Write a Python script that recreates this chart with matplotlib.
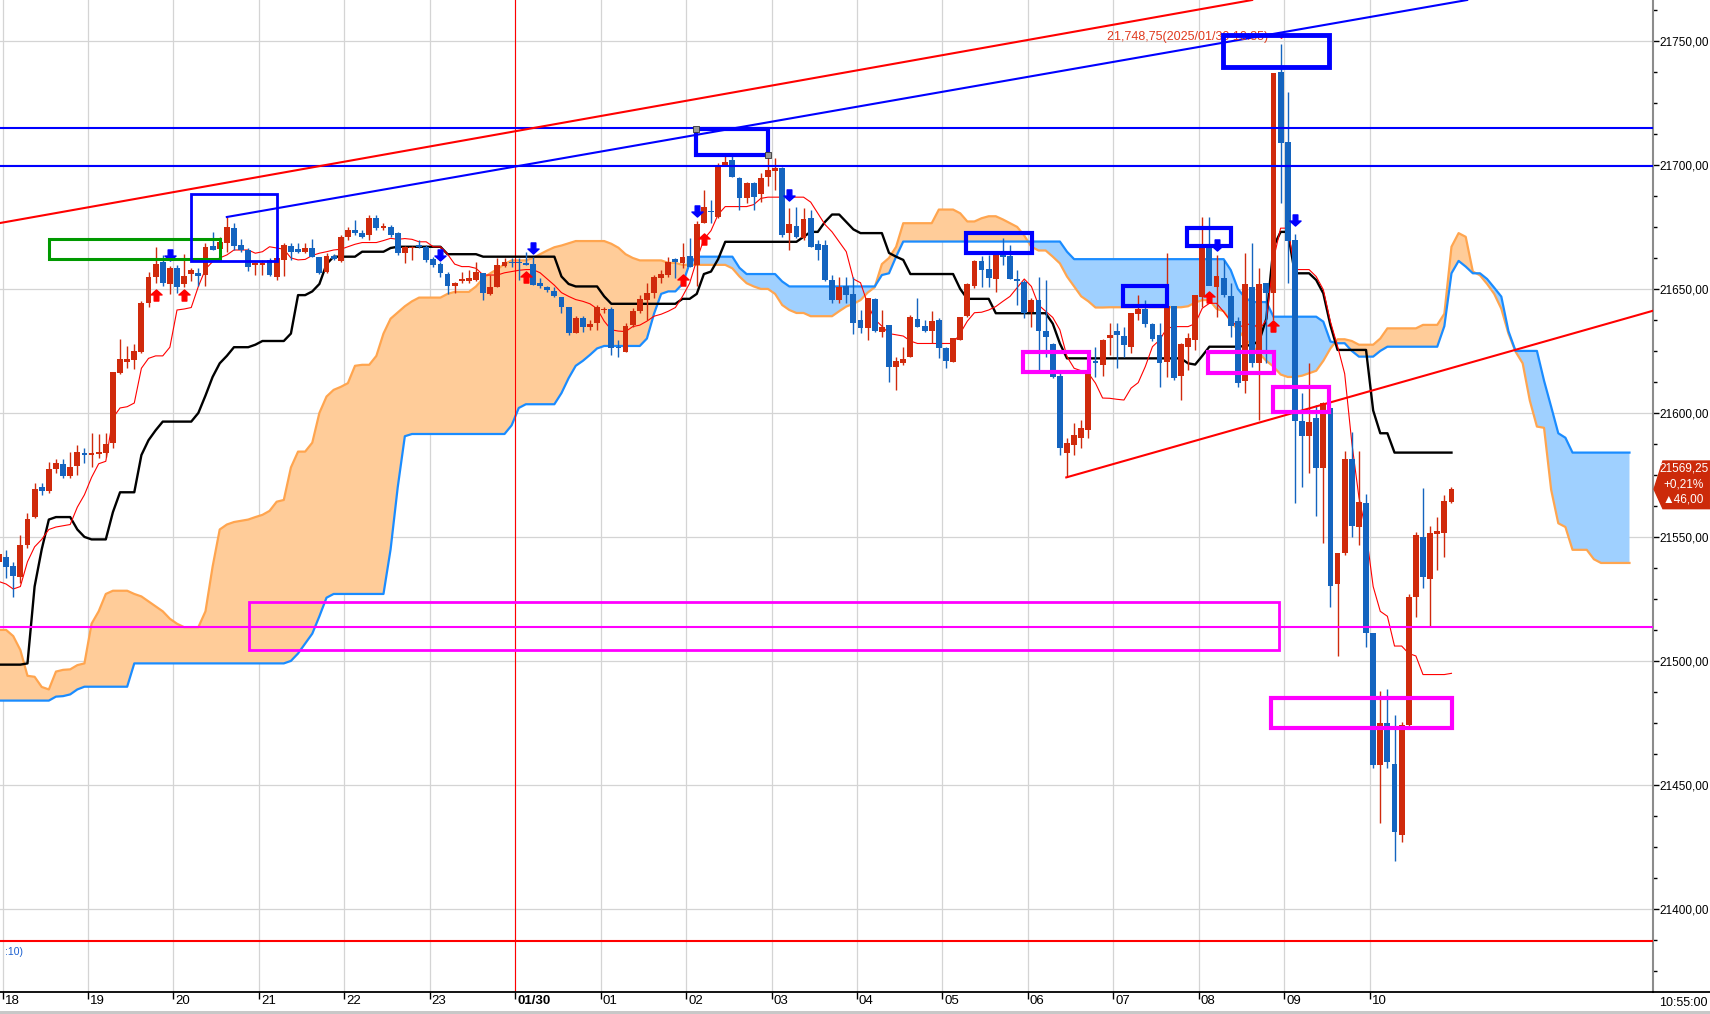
import numpy as np
import matplotlib
matplotlib.use("Agg")
import matplotlib.pyplot as plt
from matplotlib.path import Path
from matplotlib.patches import Rectangle, Polygon
from matplotlib.lines import Line2D
from matplotlib import font_manager

# ---------------- data (5-minute candles, index 0 = first bar at left edge) ----------------
OPEN = [21540, 21542, 21538.3, 21534, 21546.7, 21557.9, 21570, 21568.5, 21577.2, 21579.4,
        21574.7, 21578.7, 21583.7, 21582.9, 21583.5, 21584, 21587.7, 21616, 21620.7, 21621.4,
        21624.7, 21644.5, 21654.7, 21660.9, 21652, 21658.3, 21651.9, 21656.1, 21656.3, 21655.6,
        21667.3, 21666, 21668.4, 21674.5, 21667.7, 21665.7, 21659.7, 21659.7, 21661.7, 21655,
        21661.7, 21667.3, 21665.9, 21665, 21666.4, 21662.8, 21657, 21663.3, 21661.4, 21670.8,
        21673.8, 21672.4, 21671.8, 21678.5, 21674.5, 21674.9, 21672.4, 21664.4, 21666.4, 21667.5,
        21667, 21662, 21660, 21656, 21651, 21653, 21653, 21653.6, 21656.3, 21648,
        21650.9, 21659.4, 21660.5, 21660.7, 21660.3, 21660, 21652.3, 21650.7, 21649.3, 21646.6,
        21642.9, 21632.1, 21638.2, 21634.5, 21636.2, 21641.3, 21641.8, 21626.3, 21624.7, 21635.5,
        21640.9, 21645.5, 21648.5, 21654.3, 21655.6, 21662, 21660.6, 21663.3, 21659.7, 21676.7,
        21681.6, 21679.2, 21700, 21702, 21694.6, 21686.5, 21692.9, 21688.3, 21695.3, 21697.7,
        21698.7, 21672.4, 21675.4, 21670.4, 21678.5, 21668.1, 21667.7, 21653.6, 21645.5, 21651.2,
        21648, 21637.4, 21634.1, 21646, 21632.7, 21635.5, 21618.7, 21620.2, 21622.7, 21637.8,
        21635.2, 21633.2, 21637.5, 21626, 21620.5, 21629.4, 21639.2, 21651, 21661.3, 21658,
        21654, 21664.4, 21663.3, 21654, 21652.7, 21640.8, 21645.6, 21633.2, 21627.8, 21615,
        21584, 21587, 21590, 21593, 21620.7, 21619.4, 21630.1, 21633, 21631, 21626.7,
        21639.9, 21641.8, 21635.9, 21631.4, 21620.7, 21643.1, 21614.9, 21626.7, 21629.4, 21646.9,
        21667.1, 21650.9, 21654.3, 21647.2, 21637.2, 21613, 21650.9, 21620.3, 21652.3, 21648.5,
        21737.6, 21709.4, 21669.8, 21596.8, 21590.5, 21598.1, 21577.7, 21601.9, 21531, 21543.4,
        21581.4, 21554.2, 21563.8, 21511.4, 21458.1, 21474.9, 21458.5, 21429.8, 21474.2, 21525.9,
        21549.9, 21533.2, 21551.1, 21551.7, 21564.2]
HIGH = [21545, 21544.7, 21540, 21550.8, 21559.5, 21571.6, 21571.9, 21580.3, 21581.3, 21581.3,
        21584.4, 21587.1, 21585.7, 21591.8, 21591.5, 21591.8, 21616.7, 21629.8, 21627, 21627.8,
        21645, 21657, 21667.1, 21663.7, 21659.3, 21659.7, 21664.1, 21658.5, 21658.5, 21668.4,
        21673, 21670.8, 21679.2, 21676.7, 21670, 21666.4, 21661, 21661.7, 21662.4, 21663.3,
        21668.7, 21668.4, 21668.4, 21668.4, 21670, 21662.8, 21664.4, 21664.1, 21671.8, 21675.1,
        21677.8, 21673.8, 21679.8, 21679.8, 21676.5, 21675.8, 21673, 21667.5, 21667.2, 21669.7,
        21667.7, 21663, 21661, 21657, 21652.9, 21657, 21657.7, 21661, 21656.6, 21655.6,
        21662.4, 21662.4, 21662.4, 21662.4, 21665, 21662.7, 21654.3, 21651.2, 21650.9, 21646.9,
        21642.9, 21638.9, 21638.9, 21637.5, 21643.6, 21642.9, 21642.9, 21629.4, 21636.2, 21642.2,
        21647.6, 21652.3, 21655.6, 21657.7, 21663, 21662.4, 21668.4, 21670.4, 21677.2, 21690,
        21686, 21700.6, 21704.7, 21703.4, 21695.3, 21693.3, 21693.3, 21696.6, 21705, 21702.7,
        21699.3, 21682.5, 21683.2, 21682.5, 21681.9, 21669.7, 21669.7, 21655.6, 21654.9, 21654.9,
        21655, 21641.5, 21646.2, 21646.2, 21641.5, 21635.5, 21622.7, 21626.7, 21639.5, 21646.2,
        21637.5, 21640.9, 21638.2, 21626.7, 21630.2, 21638.8, 21652.3, 21661.7, 21663.3, 21663.7,
        21664.4, 21670.4, 21667.7, 21657.7, 21653.6, 21646.2, 21655, 21653.6, 21628.1, 21617,
        21590, 21596, 21597, 21620, 21626.7, 21630, 21636.1, 21636.1, 21634.8, 21640.2,
        21647.6, 21645.6, 21636.1, 21636.1, 21664.4, 21643.1, 21628.1, 21632.1, 21647.6, 21679.2,
        21679.2, 21663.7, 21661.7, 21652.3, 21638.8, 21664.4, 21668.4, 21658.3, 21652.3, 21737.2,
        21748.75, 21729.6, 21672, 21608, 21620, 21603.2, 21604.6, 21601.9, 21543.4, 21584.8,
        21592.5, 21584.8, 21567.3, 21511.4, 21487.9, 21488.6, 21478.2, 21475.5, 21527, 21552.1,
        21569.6, 21554.4, 21558.2, 21566.9, 21570]
LOW = [21538, 21533.3, 21525.9, 21531.5, 21545.4, 21557.5, 21566.9, 21567.6, 21575.9, 21573.6,
       21573.6, 21575, 21579.7, 21578.3, 21581.7, 21582.4, 21585.7, 21615.5, 21618, 21617.9,
       21624, 21642.6, 21652.3, 21651, 21648, 21648.2, 21650.9, 21653, 21651, 21651,
       21665.7, 21665.7, 21665, 21665.7, 21665, 21657.4, 21655.6, 21655.6, 21655.2, 21653.6,
       21655.2, 21661.7, 21664.4, 21664.4, 21662.8, 21656, 21656.3, 21661.7, 21661, 21669.8,
       21671.8, 21670.4, 21669.8, 21673.8, 21673.8, 21671.1, 21663.5, 21660.3, 21661.6, 21666.4,
       21661, 21659, 21655, 21648, 21648.3, 21652.3, 21652.3, 21653.3, 21645.5, 21647.6,
       21650.9, 21659, 21659, 21653.6, 21659.7, 21651.6, 21650.3, 21648.9, 21646.9, 21640.2,
       21631.4, 21632.1, 21632.8, 21633.5, 21633.5, 21640.2, 21623.4, 21622.7, 21624.7, 21634.8,
       21640.2, 21637.5, 21646.2, 21652.3, 21654.9, 21654.3, 21658.3, 21659, 21651, 21676.5,
       21676.5, 21678.5, 21700, 21695.3, 21681.9, 21684.5, 21681.9, 21685.2, 21691.3, 21689.9,
       21671.1, 21665.7, 21670.4, 21669.8, 21667, 21661.7, 21653, 21644.2, 21644.2, 21644.2,
       21632, 21632.1, 21629.4, 21632.8, 21630.8, 21612.6, 21609.2, 21619.4, 21622.7, 21634.8,
       21632.8, 21628.1, 21622, 21618, 21620.4, 21629.4, 21638.8, 21650.3, 21650.9, 21650.9,
       21648.9, 21659.7, 21654, 21643.5, 21638.2, 21634.8, 21616, 21622.7, 21614, 21583,
       21574, 21583, 21586, 21590, 21614.6, 21615, 21623.4, 21618, 21622.7, 21624,
       21637.5, 21634.8, 21628.8, 21610.6, 21614.6, 21613.3, 21605.2, 21617.3, 21625.4, 21642.9,
       21654.9, 21638.8, 21646.9, 21630.8, 21610.6, 21607.9, 21618.7, 21597.2, 21620, 21637.5,
       21684.5, 21652.3, 21563.8, 21570, 21575.9, 21558.5, 21547.7, 21521.9, 21502, 21542.7,
       21550.1, 21546.8, 21505.5, 21456.7, 21434.8, 21456.7, 21419.5, 21427.1, 21473.5, 21517.6,
       21529.3, 21514.1, 21536.7, 21542.1, 21563.6]
CLOSE = [21543, 21538, 21534.4, 21546.7, 21557.2, 21569.2, 21568.6, 21577.2, 21579.7, 21574.7,
         21578, 21584.1, 21583.2, 21583.7, 21583.8, 21587.5, 21616.3, 21621.6, 21621.8, 21625,
         21644.5, 21654.9, 21660.1, 21652.3, 21658.3, 21650.7, 21655.2, 21657.7, 21655.2, 21667,
         21665.7, 21669.1, 21675.1, 21667.3, 21665.7, 21659, 21660.3, 21660.3, 21655.6, 21662.4,
         21667.7, 21665, 21665, 21666.4, 21662.8, 21656.3, 21663.3, 21662, 21670.8, 21673.8,
         21672.4, 21670.8, 21678.5, 21674.5, 21675.4, 21671.8, 21664.4, 21667, 21667, 21667,
         21661.6, 21659.6, 21656.6, 21651.2, 21652.5, 21653.9, 21654.5, 21656.7, 21648.5, 21650.9,
         21659.7, 21661, 21660.3, 21660.3, 21659.8, 21651.6, 21651.2, 21649.6, 21647.2, 21642.9,
         21632.1, 21638.2, 21634.5, 21635.9, 21642.9, 21641.8, 21626, 21626, 21635, 21640.9,
         21645.8, 21648.5, 21654.9, 21656, 21661, 21661, 21663, 21659, 21676.2, 21682.9,
         21681, 21700, 21701, 21695.3, 21686.5, 21692.9, 21687.2, 21694.9, 21698, 21698.7,
         21671.8, 21676.2, 21671.1, 21678.1, 21667, 21665.7, 21653.4, 21645.5, 21650.9, 21647.6,
         21636.4, 21634.1, 21646.2, 21633.1, 21634.8, 21618.7, 21621.1, 21621.7, 21638.6, 21634.8,
         21633.2, 21637.2, 21626, 21621, 21630.2, 21638.6, 21652, 21661.3, 21657.6, 21654.3,
         21663.7, 21663, 21654, 21653, 21640.2, 21645.6, 21633.2, 21630.8, 21614.6, 21586,
         21588, 21591, 21594, 21617, 21620.3, 21629.4, 21631.4, 21631.4, 21627.4, 21640.2,
         21641.8, 21635.9, 21629.7, 21620.3, 21643.1, 21613.9, 21627.8, 21630.1, 21647.6, 21667.1,
         21651.2, 21655.2, 21647.6, 21635.1, 21612.2, 21652, 21620, 21652, 21648.2, 21737.2,
         21709, 21669.5, 21596.9, 21590.5, 21596.5, 21577.8, 21603.9, 21530.4, 21543.4, 21581.4,
         21554.6, 21564.2, 21511.4, 21458.1, 21474.9, 21459.4, 21431.2, 21474.2, 21525.9, 21550.8,
         21534, 21551.5, 21552.2, 21564.5, 21569.25]

# Ichimoku lines
TENKAN = [21532, 21531, 21529, 21530, 21540, 21546, 21549, 21553, 21554, 21554.5,
          21555, 21562, 21567, 21574, 21579.5, 21580.5, 21598, 21602, 21602.5, 21604,
          21618, 21622, 21623, 21623, 21626.5, 21641.5, 21641.9, 21642.5, 21651, 21658,
          21661, 21662.5, 21663.7, 21665.7, 21665.7, 21665.7, 21664.4, 21665, 21667, 21666.5,
          21666, 21662.5, 21661.7, 21661.9, 21663.5, 21664.4, 21665, 21665.7, 21666, 21667,
          21668, 21668.7, 21668.7, 21668.7, 21669.5, 21670.4, 21670, 21670.3, 21670, 21669,
          21669, 21667, 21667, 21664, 21660, 21659, 21659, 21658.3, 21655.6, 21655.6,
          21655.6, 21656.5, 21657, 21657.5, 21657.8, 21657.8, 21656.5, 21654, 21651.5, 21648.5,
          21647, 21645.7, 21645, 21644, 21642, 21637, 21633.5, 21633, 21632.8, 21634.8,
          21635.4, 21637, 21639, 21639.8, 21641, 21642.5, 21647, 21652.3, 21661.7, 21670,
          21673.5, 21680, 21683.2, 21683.2, 21683.2, 21683.2, 21684, 21686.5, 21687, 21687,
          21687, 21687, 21687, 21687, 21685, 21680.5, 21676, 21673, 21669, 21665,
          21654, 21652.5, 21644, 21637.7, 21635, 21632, 21631.5, 21631, 21629, 21628,
          21628, 21628, 21628, 21628, 21628, 21632.1, 21637, 21640.4, 21640.6, 21641.5,
          21642.9, 21645, 21647, 21650.5, 21654, 21651, 21643.5, 21641, 21638.5, 21633.5,
          21622.7, 21618, 21617, 21616, 21612, 21606, 21605.9, 21605.5, 21605.2, 21610,
          21612.2, 21618.7, 21626.7, 21629.4, 21634, 21634.8, 21634.8, 21634.8, 21636, 21642.2,
          21644.2, 21644.2, 21640.8, 21637, 21635, 21635, 21636.5, 21633.5, 21637.5, 21662,
          21674.5, 21674.5, 21657.8, 21657.8, 21657.8, 21655, 21649.7, 21636.8, 21626.9, 21615.8,
          21588, 21566, 21552, 21530, 21520, 21518, 21506, 21506, 21503, 21502,
          21494.5, 21494.5, 21494.5, 21494.5, 21495]
KIJUN = ([21498.5] * 4 + [21499, 21530, 21545, 21557, 21558, 21558,
          21558, 21553, 21550, 21549, 21549, 21549, 21560, 21568, 21568, 21568,
          21583, 21589, 21593] + [21596.5] * 5 + [21600, 21607,
          21614.5, 21620, 21623, 21626.5, 21626.5, 21626.5, 21627.5] + [21629] * 4 +
         [21632, 21647.5, 21647.5, 21649, 21652, 21660] + [21663] * 4 + [21665] * 4 +
         [21666.5] + [21667] * 7 + [21664] * 5 + [21663] * 11 + [21655, 21652] + [21651] * 4 +
         [21647] + [21644] * 10 + [21646, 21646, 21648, 21656, 21657, 21662] + [21669] * 11 +
         [21671, 21673, 21673, 21677, 21680, 21680, 21677, 21674] + [21672.5] * 4 +
         [21664.5, 21663, 21661.7] + [21656] * 7 + [21650] + [21646] * 4 + [21640.2] * 8 +
         [21636, 21628] + [21622] * 17 + [21620, 21619.5, 21623] + [21626.7] * 5 +
         [21627, 21627.5, 21629, 21638, 21667, 21673, 21673, 21656.3, 21656.3, 21656.3,
          21653.6, 21648.2, 21635.3] + [21625.4] * 5 + [21601, 21591.8, 21591.8] + [21584] * 9)
SPAN_A = [21512.5, 21512.5, 21510, 21504.4, 21494, 21493.6, 21489.5, 21488.5, 21495.7, 21496.4,
          21496.6, 21498.3, 21499, 21515, 21520, 21527, 21528.3, 21528.3, 21528.3, 21527,
          21526, 21524, 21522, 21520, 21517, 21515, 21513.6, 21513.6, 21513.6, 21520,
          21538, 21553, 21555, 21556, 21556.5, 21557, 21558, 21558.9, 21560.5, 21564.2,
          21564.9, 21578, 21584.4, 21584.4, 21588, 21600, 21606.6, 21609.3, 21610.5, 21612,
          21619, 21619.4, 21619.4, 21623, 21632, 21638, 21640.5, 21643, 21645, 21646.5,
          21646.5, 21646.5, 21646.5, 21648, 21648.8, 21648.8, 21648.8, 21651, 21654.3, 21656.3,
          21658, 21660, 21661.5, 21661.5, 21661.5, 21662.5, 21664, 21665.5, 21666.8, 21667.5,
          21668.4, 21669.3, 21669.3, 21669.3, 21669.3, 21669.3, 21668.2, 21666.6, 21664, 21662.5,
          21661.5, 21661.5, 21661.5, 21661.5, 21660.5, 21660.5, 21659.7, 21659.7, 21659.7, 21659.7,
          21659.7, 21659.7, 21659.7, 21658.3, 21655, 21652.3, 21651, 21650, 21650, 21648,
          21643.5, 21641.5, 21640.3, 21640.3, 21639, 21639, 21639, 21639, 21641, 21642.9,
          21644, 21645.5, 21648.5, 21650.7, 21660, 21662.5, 21667, 21676.5, 21676.5, 21676.5,
          21676.5, 21676.5, 21682, 21682, 21682, 21680.5, 21677.2, 21677.2, 21678.5, 21679.3,
          21679.3, 21678, 21676.5, 21675, 21671.5, 21667, 21665.5, 21665.5, 21663, 21660.3,
          21655, 21651, 21647, 21645, 21642.5, 21642.5, 21642.6, 21642.6, 21642.6, 21642.6,
          21642.6, 21642.6, 21642.6, 21642.6, 21642.6, 21642.6, 21642.6, 21643, 21644.5, 21645.5,
          21645.5, 21642, 21641, 21637, 21633.5, 21630, 21627, 21624, 21621, 21618.7,
          21615.5, 21614.5, 21614.5, 21615, 21616, 21617, 21621, 21626, 21629.7, 21629.7,
          21629, 21627.5, 21627.5, 21627.5, 21630, 21634.1, 21634.1, 21634.1, 21634.1, 21634.1,
          21635.5, 21635.5, 21635.5, 21640, 21667, 21672.5, 21671, 21657, 21655.5, 21652,
          21648, 21642, 21632, 21624.7, 21620, 21605, 21594.5, 21594, 21569, 21555.5,
          21554, 21544.8, 21544.8, 21544.8, 21541, 21539.5, 21539.5, 21539.5, 21539.5, 21539.5]
SPAN_B = ([21484] * 8 + [21485.6, 21485.8, 21486.5, 21488.5] + [21489.6] * 7 + [21499] * 22 +
          [21500, 21503, 21507, 21511, 21518, 21525.5] + [21527] * 8 + [21545, 21570, 21590.6] +
          [21591.5] * 14 + [21595, 21602] + [21603.5] * 5 +
          [21608, 21614, 21619, 21621, 21623.4, 21626] + [21627] * 6 +
          [21630, 21640, 21648, 21649, 21649, 21652, 21660.3] + [21663] * 6 + [21658.5] +
          [21656] * 5 + [21653] + [21651] * 13 + [21655.6, 21656.3, 21663] + [21669.1] * 23 +
          [21665] + [21662] * 22 + [21657.6, 21650, 21646.5] + [21644.7] * 3 + [21638.8] * 7 +
          [21636.8, 21628.8, 21628.1, 21628.1, 21625] + [21622.7] * 3 + [21625] + [21626.7] * 8 +
          [21635, 21656.3, 21661.3, 21659, 21656.3, 21656.3, 21654, 21650.5, 21646.9, 21633, 21625] +
          [21625] * 3 + [21613, 21602.5, 21591.8, 21590] + [21584] * 9)

X_TICK_LABELS = ["18", "19", "20", "21", "22", "23", "01/30", "01", "02", "03", "04",
                 "05", "06", "07", "08", "09", "10"]
Y_TICKS = [21400, 21450, 21500, 21550, 21600, 21650, 21700, 21750]

H_LINES = [(21715, "#0000ff"), (21699.5, "#0000ff"), (21513.8, "#ff00ff"), (21387, "#ff0000")]
# trend lines: (bar index, price) anchors
TRENDS = [([0, 176], [21676.5, 21766.5], "#ff0000"),
          ([32, 206.2], [21679, 21766.5], "#0000ff"),
          ([149.9, 232.3], [21574, 21641.2], "#ff0000")]
# rectangles: bar from, bar to, price low, price high, colour, width
RECTS = [(7.06, 31.0, 21662.0, 21670.0, "#009900", 2.2),
         (27.0, 39.0, 21661.4, 21688.3, "#0000ff", 2.0),
         (97.9, 108.0, 21704.0, 21714.5, "#0000ff", 3.0),
         (135.8, 145.1, 21664.4, 21672.7, "#0000ff", 3.0),
         (157.8, 164.0, 21643.1, 21651.2, "#0000ff", 3.0),
         (166.8, 173.0, 21667.3, 21674.7, "#0000ff", 3.0),
         (171.9, 186.8, 21739.3, 21752.5, "#0000ff", 3.5),
         (35.1, 179.8, 21504.4, 21523.8, "#ff00ff", 2.0),
         (143.8, 153.1, 21616.3, 21624.5, "#ff00ff", 3.0),
         (169.8, 179.1, 21616.0, 21624.6, "#ff00ff", 3.0),
         (178.9, 186.8, 21600.3, 21610.4, "#ff00ff", 3.0),
         (178.7, 204.1, 21473.1, 21485.2, "#ff00ff", 3.0)]
UP_ARROWS = ([22, 26, 74, 96, 99, 170, 179],
             [21647.6, 21647.6, 21655, 21653.6, 21670.3, 21646.9, 21634.9])
DOWN_ARROWS = ([24, 62, 75, 98, 111, 171, 182],
               [21663.7, 21663.8, 21666.5, 21681.6, 21688, 21667.9, 21677.9])
LAST_PRICE, CHANGE_PCT, CHANGE = 21569.25, "+0,21%", "46,00"

# ---------------- figure ----------------
W, H = 1710, 1014
fig = plt.figure(figsize=(W / 100, H / 100), dpi=100)
fig.patch.set_facecolor("white")
ax = fig.add_axes([0, 22 / H, 1653 / W, 992 / H])
ax.set_xlim(1 / 7.12, 1654 / 7.12)
ax.set_ylim(21366.5, 21766.5)

avail = {f.name for f in font_manager.fontManager.ttflist}
FONT = "Liberation Sans Narrow" if "Liberation Sans Narrow" in avail else "Liberation Sans"

RED, BLUE = "#d02a0c", "#1464bf"

# grid
ax.set_axisbelow(True)
xt = [12 * n + 0.5 for n in range(len(X_TICK_LABELS))]
ax.set_xticks(xt)
ax.set_xticklabels([""] * len(xt))
ax.set_yticks(Y_TICKS)
ax.set_yticks(np.arange(21375, 21766, 12.5), minor=True)
ax.grid(True, which="major", color="#d4d4d4", lw=0.9, zorder=0)

# cloud
js = np.arange(len(SPAN_A))
sa, sb = np.array(SPAN_A, float), np.array(SPAN_B, float)
ax.fill_between(js, sa, sb, where=sa >= sb, interpolate=True, color="#ffcc99", lw=0, zorder=1)
ax.fill_between(js, sa, sb, where=sb > sa, interpolate=True, color="#9fd0ff", lw=0, zorder=1)
ax.plot(js, sa, color="#ffa54f", lw=1.6, zorder=1.5)
ax.plot(js, sb, color="#1a8cff", lw=1.6, zorder=1.5)

# vertical marker at 01/30
ax.axvline(72.5, color="#ff0000", lw=0.8, zorder=2)

jc = np.arange(len(OPEN))
ax.plot(jc, KIJUN, color="black", lw=1.7, zorder=3)
ax.plot(jc, TENKAN, color="#ff0000", lw=0.8, zorder=3)

# candles
o, h, l, c = (np.array(a, float) for a in (OPEN, HIGH, LOW, CLOSE))
cols = np.where(c >= o, RED, BLUE)
ax.vlines(jc, l, h, colors=cols, lw=1.0, zorder=4)
ax.bar(jc, np.maximum(np.abs(c - o), 0.6), bottom=np.minimum(o, c), width=0.82,
       color=cols, edgecolor="none", zorder=4.5)

# arrows
up_path = Path([(0, 1), (-1, 0.1), (-0.42, 0.1), (-0.42, -1), (0.42, -1), (0.42, 0.1), (1, 0.1), (0, 1)],
               [Path.MOVETO] + [Path.LINETO] * 6 + [Path.CLOSEPOLY])
down_path = Path([(x, -y) for x, y in up_path.vertices], up_path.codes)
ax.plot(UP_ARROWS[0], UP_ARROWS[1], ls="none", marker=up_path, ms=8, color="#ff0000", zorder=5)
ax.plot(DOWN_ARROWS[0], DOWN_ARROWS[1], ls="none", marker=down_path, ms=8, color="#0000ff", zorder=5)
ax.plot([180], [21751.3], ls="none", marker=7, ms=3.5, color="#ff0000", zorder=5)

# horizontal + trend lines
for p, col in H_LINES:
    ax.axhline(p, color=col, lw=1.5, zorder=6)
for xs, ys, col in TRENDS:
    ax.plot(xs, ys, color=col, lw=1.5, zorder=6)

# label of the high
ax.text(155.6, 21751.6, "21,748,75(2025/01/30 10:35)", color="#e03a1e", fontsize=9,
        family=FONT, va="center", ha="left", zorder=6.5)

# rectangles
for x0, x1, p0, p1, col, lw in RECTS:
    ax.add_patch(Rectangle((x0, p0), x1 - x0, p1 - p0, fill=False, edgecolor=col, lw=lw, zorder=7))
ax.plot([97.9, 108.0], [21714.5, 21704.0], ls="none", marker="s", ms=4, mfc="#999999",
        mec="#333333", mew=0.6, zorder=7.5)

# axes styling
for s in ("left", "top"):
    ax.spines[s].set_visible(False)
ax.spines["right"].set_color("#8c8c8c")
ax.spines["right"].set_linewidth(1.5)
ax.spines["bottom"].set_color("black")
ax.spines["bottom"].set_linewidth(1.3)
ax.yaxis.tick_right()
ax.set_yticklabels([f"{v:.0f},00" for v in Y_TICKS])
ax.tick_params(axis="y", which="both", direction="out", length=4, width=1, pad=0.5,
               labelsize=8.5, colors="black")
ax.tick_params(axis="y", which="minor", length=3)
ax.tick_params(axis="x", direction="out", length=5, width=1, color="black")
for lab in ax.get_yticklabels():
    lab.set_family(FONT)

for xv, txt in zip(xt, X_TICK_LABELS):
    ax.annotate(txt, xy=(xv, 0), xycoords=("data", "axes fraction"), xytext=(2, -3),
                textcoords="offset pixels", ha="left", va="top", fontsize=9.5, family=FONT,
                fontweight="bold" if txt == "01/30" else "normal", annotation_clip=False)

fig.add_artist(Line2D([1653 / W, 1], [22 / H, 22 / H], transform=fig.transFigure, color="black", lw=1.3))
fig.text(1708 / W, 1 - 1003 / H, "10:55:00", ha="right", va="center", fontsize=9, family=FONT)
fig.add_artist(Rectangle((0, 0), 1, 3 / H, transform=fig.transFigure, color="#c8c8c8", lw=0))
ax.text(0.8, 21382.6, ":10)", color="#1a5fd0", fontsize=7.5, family=FONT, va="center", ha="left")

# last price box
box = Polygon([(232.45, LAST_PRICE), (233.7, 21580.6), (240.3, 21580.6), (240.3, 21561.4),
               (233.7, 21561.4)], closed=True, color="#cc2a0a", clip_on=False, zorder=8)
ax.add_patch(box)
for yv, txt in ((21577.6, f"{LAST_PRICE:.2f}".replace(".", ",")), (21571.3, CHANGE_PCT),
                (21565.0, "\u25b2" + CHANGE)):
    ax.text(236.6, yv, txt, color="white", fontsize=8.5, family=[FONT, "DejaVu Sans"],
            ha="center", va="center", clip_on=False, zorder=9)

fig.savefig("out.png", dpi=100)
